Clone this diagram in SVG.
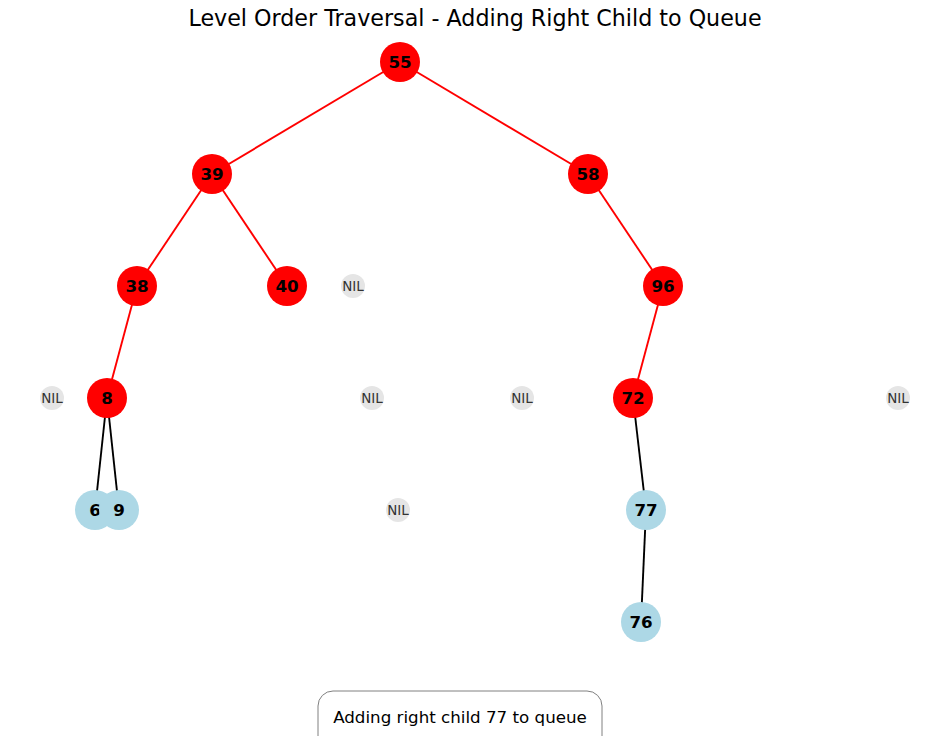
<svg xmlns="http://www.w3.org/2000/svg" width="950" height="736" viewBox="0 0 950 736">
<style>
.e{stroke-width:1.9;fill:none}
.r{stroke:#ff0000}
.k{stroke:#000000}
.n circle{stroke:none}
.red circle{fill:#ff0000}
.blue circle{fill:#add8e6}
.nil circle{fill:#e5e5e5}
.lbl{font-family:"DejaVu Sans",sans-serif;font-weight:bold;font-size:16.7px;fill:#000;text-anchor:middle;dominant-baseline:central}
.nl{font-family:"DejaVu Sans",sans-serif;font-size:13.5px;fill:#333;text-anchor:middle;dominant-baseline:central}
</style>
<rect width="950" height="736" fill="#ffffff"/>
<text x="475" y="26" font-family="DejaVu Sans,sans-serif" font-size="22.2" text-anchor="middle" fill="#000">Level Order Traversal - Adding Right Child to Queue</text>
<g id="connectors">
<line class="e r" x1="400" y1="62" x2="212" y2="174"/>
<line class="e r" x1="400" y1="62" x2="588" y2="174"/>
<line class="e r" x1="212" y1="174" x2="137" y2="286"/>
<line class="e r" x1="212" y1="174" x2="287" y2="286"/>
<line class="e r" x1="588" y1="174" x2="663" y2="286"/>
<line class="e r" x1="137" y1="286" x2="107" y2="398"/>
<line class="e r" x1="663" y1="286" x2="633" y2="398"/>
<line class="e k" x1="107" y1="398" x2="95" y2="510"/>
<line class="e k" x1="107" y1="398" x2="119" y2="510"/>
<line class="e k" x1="633" y1="398" x2="646" y2="510"/>
<line class="e k" x1="646" y1="510" x2="641" y2="622"/>
</g>
<g id="n55" class="n red"><circle cx="400" cy="62" r="20"/><text class="lbl" x="400" y="62">55</text></g>
<g id="n39" class="n red"><circle cx="212" cy="174" r="20"/><text class="lbl" x="212" y="174">39</text></g>
<g id="n58" class="n red"><circle cx="588" cy="174" r="20"/><text class="lbl" x="588" y="174">58</text></g>
<g id="n38" class="n red"><circle cx="137" cy="286" r="20"/><text class="lbl" x="137" y="286">38</text></g>
<g id="n40" class="n red"><circle cx="287" cy="286" r="20"/><text class="lbl" x="287" y="286">40</text></g>
<g id="nil1" class="n nil"><circle cx="353" cy="286" r="12"/><text class="nl" x="353" y="286">NIL</text></g>
<g id="n96" class="n red"><circle cx="663" cy="286" r="20"/><text class="lbl" x="663" y="286">96</text></g>
<g id="nil2" class="n nil"><circle cx="52" cy="398" r="12"/><text class="nl" x="52" y="398">NIL</text></g>
<g id="n8" class="n red"><circle cx="107" cy="398" r="20"/><text class="lbl" x="107" y="398">8</text></g>
<g id="nil3" class="n nil"><circle cx="372" cy="398" r="12"/><text class="nl" x="372" y="398">NIL</text></g>
<g id="nil4" class="n nil"><circle cx="522" cy="398" r="12"/><text class="nl" x="522" y="398">NIL</text></g>
<g id="n72" class="n red"><circle cx="633" cy="398" r="20"/><text class="lbl" x="633" y="398">72</text></g>
<g id="nil5" class="n nil"><circle cx="898" cy="398" r="12"/><text class="nl" x="898" y="398">NIL</text></g>
<g id="n6" class="n blue"><circle cx="95" cy="510" r="20"/><text class="lbl" x="95" y="510">6</text></g>
<g id="n9" class="n blue"><circle cx="119" cy="510" r="20"/><text class="lbl" x="119" y="510">9</text></g>
<g id="nil6" class="n nil"><circle cx="398" cy="510" r="12"/><text class="nl" x="398" y="510">NIL</text></g>
<g id="n77" class="n blue"><circle cx="646" cy="510" r="20"/><text class="lbl" x="646" y="510">77</text></g>
<g id="n76" class="n blue"><circle cx="641" cy="622" r="20"/><text class="lbl" x="641" y="622">76</text></g>
<g id="caption">
<rect x="318" y="691" width="284" height="60" rx="15" ry="15" fill="#ffffff" stroke="#808080" stroke-width="1"/>
<text x="460" y="717" font-family="DejaVu Sans,sans-serif" font-size="16.7" text-anchor="middle" dominant-baseline="central" fill="#000">Adding right child 77 to queue</text>
</g>
</svg>
